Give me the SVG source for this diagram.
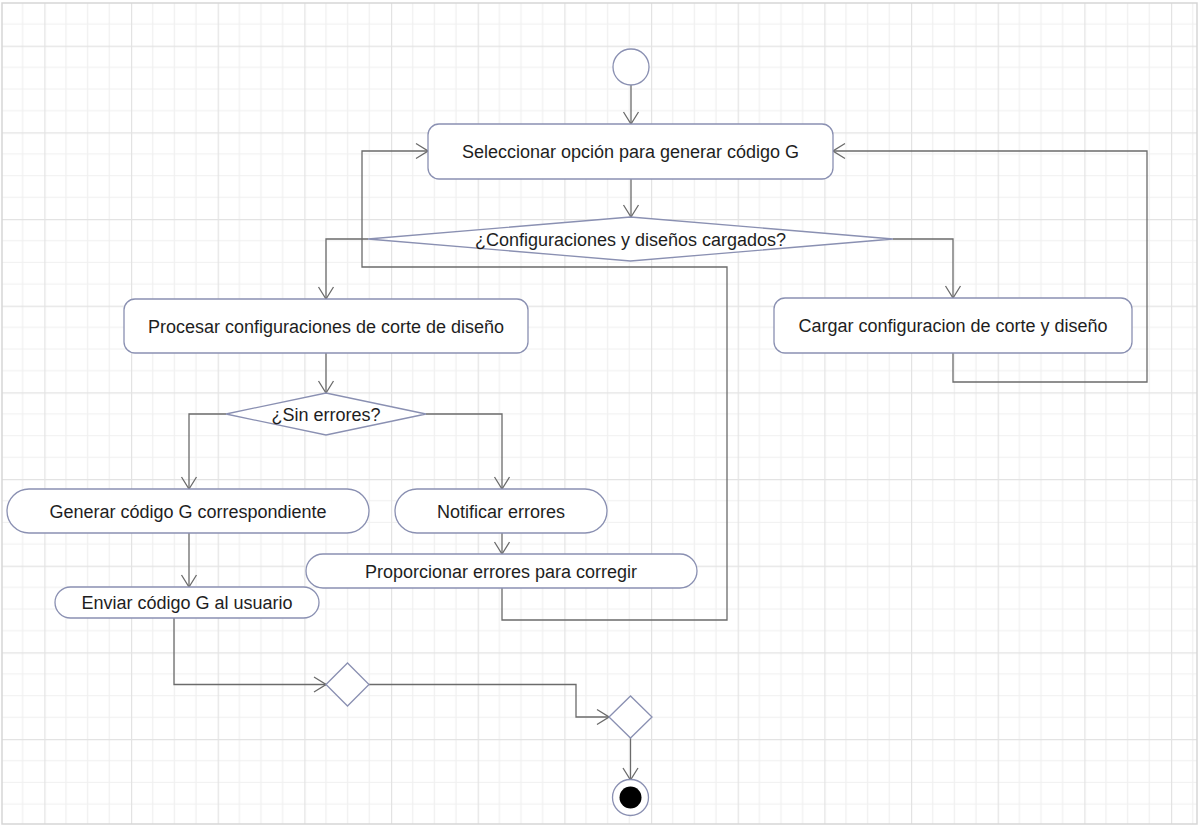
<svg xmlns="http://www.w3.org/2000/svg" width="1200" height="826" viewBox="0 0 1200 826">
  <defs>
    <!-- background grid: minor cells 21.667, major every 4 cells -->
    <pattern id="grid" patternUnits="userSpaceOnUse" x="44.33" y="45.67" width="86.667" height="86.667">
      <rect x="0" y="0" width="86.667" height="86.667" fill="#ffffff"/>
      <g stroke="#f0f0f0" stroke-width="1.2">
        <line x1="21.667" y1="0" x2="21.667" y2="86.667"/>
        <line x1="43.333" y1="0" x2="43.333" y2="86.667"/>
        <line x1="65" y1="0" x2="65" y2="86.667"/>
        <line x1="0" y1="21.667" x2="86.667" y2="21.667"/>
        <line x1="0" y1="43.333" x2="86.667" y2="43.333"/>
        <line x1="0" y1="65" x2="86.667" y2="65"/>
      </g>
      <g stroke="#e3e3e3" stroke-width="1.4">
        <line x1="0.5" y1="0" x2="0.5" y2="86.667"/>
        <line x1="0" y1="0.5" x2="86.667" y2="0.5"/>
      </g>
    </pattern>
    <marker id="arrow" markerUnits="userSpaceOnUse" viewBox="0 0 14 18" markerWidth="14" markerHeight="18" refX="13" refY="9" orient="auto">
      <path d="M1,1.5 L13,9 L1,16.5" fill="none" stroke="#6b6b6b" stroke-width="1.3"/>
    </marker>
  </defs>
  <style>
    .node { fill: #ffffff; stroke: #8a90b2; stroke-width: 1.3; }
    .label { font-family: "Liberation Sans", Arial, sans-serif; font-size: 18px; fill: #1e1e1e; text-anchor: middle; }
    .edge { fill: none; stroke: #6b6b6b; stroke-width: 1.3; }
    .edge.arrowed { marker-end: url(#arrow); }
  </style>

  <rect x="0" y="0" width="1200" height="826" fill="#ffffff"/>
  <rect x="2" y="3" width="1195" height="821" fill="url(#grid)" stroke="#d6d6d6" stroke-width="1.5"/>

  <g id="connectors">
    <path class="edge arrowed" d="M631,85 L631,124"/>
    <path class="edge arrowed" d="M631,179 L631,217"/>
    <path class="edge arrowed" d="M368,239 L326,239 L326,299"/>
    <path class="edge arrowed" d="M893,239 L953,239 L953,298"/>
    <path class="edge arrowed" d="M953,353 L953,382 L1147,382 L1147,151 L833,151"/>
    <path class="edge arrowed" d="M326,353 L326,393"/>
    <path class="edge arrowed" d="M226,414 L189,414 L189,489"/>
    <path class="edge arrowed" d="M426,414 L502,414 L502,489"/>
    <path class="edge arrowed" d="M189,533 L189,587"/>
    <path class="edge arrowed" d="M502,533 L502,554"/>
    <path class="edge arrowed" d="M502,588 L502,620 L727,620 L727,267 L362,267 L362,151 L428,151"/>
    <path class="edge arrowed" d="M174,618 L174,684.5 L326,684.5"/>
    <path class="edge arrowed" d="M369,684.5 L576,684.5 L576,717 L609,717"/>
    <path class="edge arrowed" d="M630.5,738 L630.5,780"/>
  </g>

  <g id="start">
    <circle class="node" cx="631" cy="67" r="18"/>
  </g>

  <g id="seleccionar">
    <rect class="node" x="428" y="124" width="405" height="55" rx="11"/>
    <text class="label" x="630.5" y="157.5">Seleccionar opción para generar código G</text>
  </g>

  <g id="decision-cargados">
    <polygon class="node" points="368,239 630.5,217 893,239 630.5,261"/>
    <text class="label" x="630.5" y="245.5">¿Configuraciones y diseños cargados?</text>
  </g>

  <g id="cargar">
    <rect class="node" x="774" y="298" width="358" height="55" rx="11"/>
    <text class="label" x="953" y="332">Cargar configuracion de corte y diseño</text>
  </g>

  <g id="procesar">
    <rect class="node" x="124" y="299" width="404" height="54" rx="11"/>
    <text class="label" x="326" y="332.5">Procesar configuraciones de corte de diseño</text>
  </g>

  <g id="decision-errores">
    <polygon class="node" points="226,414 326,393 426,414 326,435"/>
    <text class="label" x="326" y="420.5">¿Sin errores?</text>
  </g>

  <g id="generar">
    <rect class="node" x="7" y="489" width="362" height="44" rx="22"/>
    <text class="label" x="188" y="517.5">Generar código G correspondiente</text>
  </g>

  <g id="notificar">
    <rect class="node" x="395" y="489" width="212" height="44" rx="22"/>
    <text class="label" x="501" y="517.5">Notificar errores</text>
  </g>

  <g id="proporcionar">
    <rect class="node" x="306" y="554" width="391" height="34" rx="17"/>
    <text class="label" x="501" y="577.5">Proporcionar errores para corregir</text>
  </g>

  <g id="enviar">
    <rect class="node" x="55" y="587" width="264" height="31" rx="15.5"/>
    <text class="label" x="187" y="609">Enviar código G al usuario</text>
  </g>

  <g id="merge-1">
    <polygon class="node" points="326,684.5 347.5,663 369,684.5 347.5,706"/>
  </g>

  <g id="merge-2">
    <polygon class="node" points="609,717 630.5,696 652,717 630.5,738"/>
  </g>

  <g id="end">
    <circle class="node" cx="630.5" cy="797.5" r="18"/>
    <circle cx="630.5" cy="797.5" r="11" fill="#000000"/>
  </g>
</svg>
